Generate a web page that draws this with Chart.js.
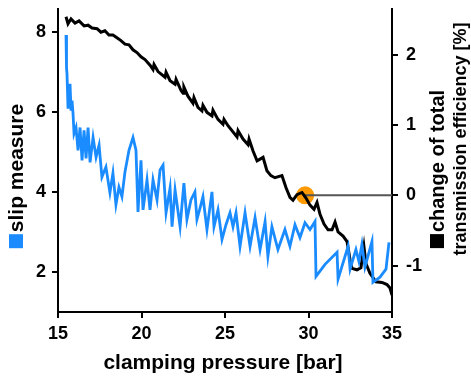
<!DOCTYPE html>
<html><head><meta charset="utf-8">
<script src="https://cdn.jsdelivr.net/npm/chart.js@4/dist/chart.umd.min.js"></script>
<style>html,body{margin:0;padding:0;background:#fff}#wrap{width:471px;height:376px}</style>
</head><body><div id="wrap"><canvas id="c" width="471" height="376"></canvas></div>
<script>
const xTicks = [15, 20, 25, 30, 35];
const slipTicks = [2, 4, 6, 8];
const effTicks = [-1, 0, 1, 2];

const slipX = [15.48,15.51,15.54,15.60,15.66,15.72,15.78,15.84,15.90,15.96,16.08,16.20,16.32,16.44,16.56,16.68,16.80,16.92,17.10,17.28,17.46,17.63,17.87,18.11,18.29,18.47,18.65,18.83,19.01,19.25,19.49,19.67,19.79,19.97,20.09,20.33,20.51,20.69,20.93,21.11,21.29,21.47,21.71,21.83,22.01,22.31,22.54,22.72,22.96,23.20,23.32,23.56,23.68,23.92,24.22,24.34,24.58,24.82,25.06,25.30,25.48,25.66,25.90,26.20,26.50,26.80,27.10,27.40,27.57,27.81,28.17,28.59,28.89,29.19,29.49,29.79,30.09,30.39,30.45,30.99,31.71,31.77,32.37,32.49,32.84,33.02,33.20,33.38,33.80,33.86,34.28,34.64,34.82];
const slipY = [7.92,7.10,6.95,6.08,6.41,6.70,6.03,6.28,5.96,5.46,5.61,5.04,5.61,4.79,5.54,4.84,5.61,4.74,5.36,4.87,5.17,4.37,4.62,3.98,4.47,3.68,4.12,3.88,4.50,5.04,5.36,5.04,3.50,4.79,3.55,4.30,3.55,4.30,3.80,4.55,4.67,3.48,4.10,3.13,4.05,3.13,4.22,3.31,3.80,4.00,3.31,3.68,3.88,3.06,4.00,3.13,3.55,2.81,3.18,3.48,3.13,3.48,2.64,3.48,2.64,3.36,2.56,3.26,2.39,3.13,2.56,3.06,2.64,3.18,2.86,3.23,3.06,3.26,1.89,2.19,2.49,1.82,2.64,2.07,2.56,2.26,2.69,2.12,2.76,1.74,1.87,2.07,2.74];

const effX = [15.48,15.60,15.78,16.02,16.26,16.56,16.80,17.04,17.34,17.57,17.81,18.05,18.29,18.53,18.77,19.01,19.25,19.49,19.73,19.97,20.21,20.51,20.69,20.75,20.99,21.41,21.47,21.71,22.01,22.07,22.37,22.49,22.54,22.78,23.08,23.14,23.38,23.62,23.68,23.92,24.22,24.28,24.58,24.88,24.94,25.18,25.72,25.78,26.08,26.38,26.44,26.68,26.92,27.28,27.51,27.75,27.99,28.41,28.65,28.89,29.07,29.31,29.61,29.85,30.09,30.33,30.51,30.69,30.93,31.17,31.41,31.59,31.77,32.07,32.31,32.49,32.60,32.90,33.14,33.32,33.44,33.68,34.04,34.40,34.70,34.88,35.00];
const effY = [2.54,2.44,2.51,2.45,2.48,2.41,2.42,2.38,2.37,2.32,2.34,2.28,2.28,2.24,2.20,2.15,2.14,2.07,2.03,1.97,1.93,1.85,1.79,1.86,1.76,1.68,1.75,1.63,1.58,1.65,1.49,1.45,1.54,1.41,1.31,1.39,1.25,1.20,1.28,1.18,1.13,1.21,1.08,1.01,1.08,0.99,0.83,0.92,0.80,0.72,0.80,0.63,0.49,0.54,0.35,0.28,0.25,0.28,0.11,-0.03,-0.07,0.01,0.04,-0.04,-0.14,-0.20,-0.10,-0.27,-0.41,-0.49,-0.49,-0.38,-0.52,-0.58,-0.66,-0.92,-1.04,-1.06,-1.03,-0.73,-0.97,-1.11,-1.23,-1.24,-1.27,-1.32,-1.42];

const markerX = [29.8];
const markerY = [0];
const refLineX = [29.8, 35];
const refLineY = [0, 0];

const pts = (xs, ys) => xs.map((x, i) => ({x: x, y: ys[i]}));
const FONT = '"Liberation Sans", Arial, sans-serif';

const titlePlugin = {
  id: 'titles',
  afterDraw(chart) {
    const ctx = chart.ctx;
    ctx.save();
    ctx.fillStyle = '#000';
    ctx.font = 'bold 21px ' + FONT;
    ctx.textAlign = 'center';
    ctx.textBaseline = 'alphabetic';
    ctx.fillText('clamping pressure [bar]', 223, 369);
    function rotTitle(cx, cy, text, sqColor, size) {
      ctx.save();
      ctx.translate(cx, cy);
      ctx.rotate(-Math.PI / 2);
      ctx.font = 'bold ' + size + 'px ' + FONT;
      const w = ctx.measureText(text).width;
      const sq = 14, gap = 2;
      const total = sq + gap + w;
      const x0 = -total / 2;
      ctx.fillStyle = sqColor;
      ctx.fillRect(x0, -sq, sq, sq);
      ctx.fillStyle = '#000';
      ctx.textAlign = 'left';
      ctx.fillText(text, x0 + sq + gap, 0);
      ctx.restore();
    }
    rotTitle(23, 176, 'slip measure', '#1a8cff', 21);
    rotTitle(444, 169, 'change of total', '#000', 20);
    ctx.save();
    ctx.translate(466, 139);
    ctx.rotate(-Math.PI / 2);
    ctx.font = 'bold 18px ' + FONT;
    ctx.textAlign = 'center';
    ctx.fillStyle = '#000';
    ctx.fillText('transmission efficiency [%]', 0, 0);
    ctx.restore();
    ctx.restore();
  }
};

const axisCommon = {
  border: {display: true, color: '#000', width: 2},
  grid: {drawOnChartArea: false, drawTicks: true, tickLength: 6, color: '#000', lineWidth: 2},
};
const tickFont = {family: FONT, size: 18, weight: 'bold'};
const noPad = s => { s.paddingTop = 0; s.paddingBottom = 0; };

new Chart(document.getElementById('c'), {
  type: 'line',
  data: {
    datasets: [
      {data: pts(slipX, slipY), yAxisID: 'y', borderColor: '#1a8cff', borderWidth: 2.8, pointRadius: 0, tension: 0},
      {data: pts(effX, effY), yAxisID: 'y2', borderColor: '#000', borderWidth: 3, pointRadius: 0, tension: 0},
      {data: pts(refLineX, refLineY), yAxisID: 'y2', borderColor: '#555', borderWidth: 2, pointRadius: 0},
      {data: pts(markerX, markerY), yAxisID: 'y2', showLine: false, pointRadius: 9, pointBackgroundColor: '#ff9900', pointBorderWidth: 0, borderColor: '#ff9900'}
    ]
  },
  options: {
    responsive: false, animation: false, devicePixelRatio: 1,
    layout: {padding: {top: 7, left: 0, right: 0, bottom: 0}},
    plugins: {legend: {display: false}, tooltip: {enabled: false}},
    scales: {
      x: Object.assign({}, axisCommon, {
        type: 'linear', min: 15, max: 35,
        afterBuildTicks: s => { s.ticks = xTicks.map(v => ({value: v})); },
        afterFit: s => { s.height = 64; s.paddingLeft = 0; s.paddingRight = 0; },
        ticks: {color: '#000', font: tickFont, padding: 5, maxRotation: 0}
      }),
      y: Object.assign({}, axisCommon, {
        type: 'linear', position: 'left', min: 1, max: 8.57,
        afterBuildTicks: s => { s.ticks = slipTicks.map(v => ({value: v})); },
        afterFit: s => { s.width = 58; noPad(s); },
        ticks: {color: '#000', font: tickFont, padding: 6}
      }),
      y2: Object.assign({}, axisCommon, {
        type: 'linear', position: 'right', min: -1.66, max: 2.65,
        afterBuildTicks: s => { s.ticks = effTicks.map(v => ({value: v})); },
        afterFit: s => { s.width = 79; noPad(s); },
        ticks: {color: '#000', font: tickFont, padding: 8}
      })
    }
  },
  plugins: [titlePlugin]
});
</script>
</body></html>
